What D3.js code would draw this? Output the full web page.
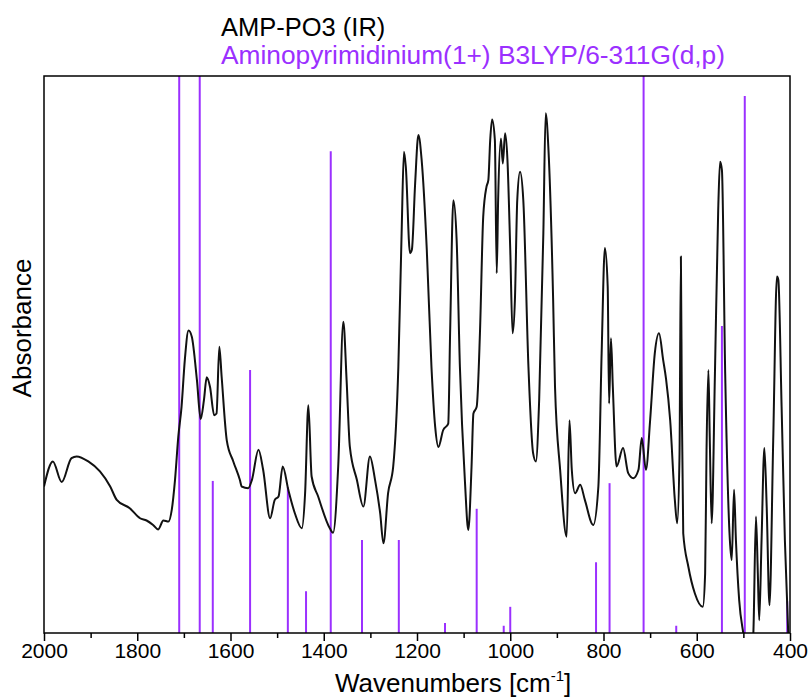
<!DOCTYPE html>
<html>
<head>
<meta charset="utf-8">
<script src="https://cdn.jsdelivr.net/npm/d3@7"></script>
<style>
  body { margin: 0; background: #fff; }
  text { font-family: "Liberation Sans", Arial, sans-serif; }
</style>
</head>
<body>
<div id="chart"></div>
<script>
// IR spectrum, wavenumber (cm-1) and absorbance (arb. units)
const specWn = [
  2000, 1981, 1962, 1941, 1930, 1905, 1880, 1858, 1844, 1816,
  1794, 1780, 1766, 1755, 1744, 1733, 1726, 1719, 1712, 1705,
  1698, 1690, 1683, 1672, 1664, 1657, 1651, 1644, 1635, 1630,
  1624, 1619, 1608, 1594, 1580, 1576, 1562, 1554, 1540, 1530,
  1515, 1505, 1497, 1488, 1476, 1462, 1447, 1440, 1433, 1426,
  1412, 1387, 1380, 1369, 1358, 1351, 1344, 1329, 1315, 1301,
  1290, 1279, 1272, 1262, 1251, 1240, 1233, 1228, 1224, 1215,
  1211, 1204, 1197, 1190, 1179, 1169, 1161, 1154, 1144, 1133,
  1129, 1122, 1115, 1108, 1097, 1090, 1083, 1079, 1072, 1065,
  1058, 1051, 1047, 1043, 1039, 1033, 1029, 1026, 1020, 1016,
  1011, 1006, 1000, 995, 990, 985, 979, 972, 961, 951,
  945, 938, 929, 924, 918, 908, 904, 893, 879, 873,
  868, 861, 850, 840, 822, 811, 804, 797, 791, 788,
  784, 780, 772, 758, 747, 736, 725, 718, 709, 700,
  690, 681, 672, 666, 657, 647, 642, 637, 634, 632,
  629, 618, 604, 587, 582, 579, 575, 572, 568, 561,
  554, 550, 546, 539, 529, 525, 520, 516, 509, 500,
  490, 479, 473, 469, 466, 461, 455, 450, 444, 436,
  428, 425, 418, 411, 404, 400
];
const specAbs = [
  0.263, 0.308, 0.271, 0.314, 0.317, 0.308, 0.290, 0.263, 0.239, 0.224,
  0.206, 0.202, 0.194, 0.186, 0.202, 0.200, 0.221, 0.275, 0.352, 0.406,
  0.490, 0.543, 0.532, 0.454, 0.384, 0.418, 0.459, 0.442, 0.391, 0.394,
  0.514, 0.460, 0.346, 0.308, 0.275, 0.263, 0.260, 0.275, 0.329, 0.293,
  0.206, 0.239, 0.245, 0.299, 0.257, 0.215, 0.188, 0.251, 0.409, 0.281,
  0.245, 0.188, 0.180, 0.299, 0.559, 0.454, 0.334, 0.275, 0.227, 0.317,
  0.275, 0.215, 0.161, 0.251, 0.299, 0.478, 0.718, 0.864, 0.837, 0.682,
  0.688, 0.807, 0.894, 0.849, 0.688, 0.478, 0.370, 0.334, 0.364, 0.376,
  0.538, 0.777, 0.706, 0.478, 0.269, 0.185, 0.299, 0.394, 0.406, 0.538,
  0.747, 0.801, 0.813, 0.885, 0.922, 0.885, 0.646, 0.777, 0.888, 0.843,
  0.897, 0.849, 0.688, 0.538, 0.598, 0.777, 0.828, 0.777, 0.478, 0.323,
  0.308, 0.418, 0.718, 0.933, 0.867, 0.598, 0.442, 0.293, 0.173, 0.382,
  0.293, 0.251, 0.266, 0.239, 0.194, 0.263, 0.502, 0.691, 0.622, 0.412,
  0.529, 0.442, 0.299, 0.332, 0.287, 0.278, 0.293, 0.350, 0.293, 0.382,
  0.502, 0.538, 0.490, 0.457, 0.382, 0.239, 0.197, 0.317, 0.676, 0.406,
  0.179, 0.119, 0.071, 0.047, 0.107, 0.329, 0.472, 0.346, 0.197, 0.466,
  0.759, 0.846, 0.831, 0.466, 0.167, 0.131, 0.257, 0.167, 0.059, -0.001,
  -0.05, -0.007, 0.209, 0.107, 0.023, 0.167, 0.332, 0.227, 0.050, 0.346,
  0.640, 0.634, 0.406, 0.167, 0.005, -0.05
];

// computed lines (B3LYP), position and relative intensity
const stickWn  = [1710, 1666, 1638, 1558, 1477, 1438, 1385, 1318, 1239, 1140,
                  1072, 1014, 1000, 816, 787, 714, 644, 546, 497, 406];
const stickInt = [1.0, 1.0, 0.273, 0.472, 0.262, 0.075, 0.865, 0.167, 0.167, 0.018,
                  0.223, 0.013, 0.047, 0.127, 0.269, 1.0, 0.013, 0.551, 0.964, 0.057];

const majorTicks = [2000, 1800, 1600, 1400, 1200, 1000, 800, 600, 400];
const minorTicks = [1900, 1700, 1500, 1300, 1100, 900, 700, 500];

const legendLabels = ["AMP-PO3 (IR)", "Aminopyrimidinium(1+) B3LYP/6-311G(d,p)"];

const W = 809, H = 700;
const margin = {top: 76, right: 19, bottom: 67, left: 44};
const purple = "#9b30ff";

const svg = d3.select("#chart").append("svg")
  .attr("width", W).attr("height", H);

const x = d3.scaleLinear().domain([2000, 400]).range([margin.left, W - margin.right]);
const y = d3.scaleLinear().domain([0, 1]).range([H - margin.bottom, margin.top]);

svg.append("clipPath").attr("id", "plot-clip")
  .append("rect")
  .attr("x", margin.left).attr("y", margin.top)
  .attr("width", W - margin.left - margin.right)
  .attr("height", H - margin.top - margin.bottom);

const plot = svg.append("g").attr("clip-path", "url(#plot-clip)");

// sticks
plot.selectAll("line.stick")
  .data(stickWn.map((w, i) => ({w: w, v: stickInt[i]})))
  .enter().append("line")
  .attr("class", "stick")
  .attr("x1", d => x(d.w)).attr("x2", d => x(d.w))
  .attr("y1", y(0)).attr("y2", d => y(d.v))
  .attr("stroke", purple)
  .attr("stroke-width", 2);

// spectrum
const spec = specWn.map((w, i) => ({w: w, v: specAbs[i]}));
const line = d3.line()
  .x(d => x(d.w))
  .y(d => y(d.v))
  .curve(d3.curveMonotoneX);

plot.append("path")
  .datum(spec)
  .attr("d", line)
  .attr("fill", "none")
  .attr("stroke", "#111")
  .attr("stroke-width", 2)
  .attr("stroke-linejoin", "round");

// frame
svg.append("rect")
  .attr("x", margin.left).attr("y", margin.top)
  .attr("width", W - margin.left - margin.right)
  .attr("height", H - margin.top - margin.bottom)
  .attr("fill", "none")
  .attr("stroke", "#000")
  .attr("stroke-width", 1.5);

// x axis
const xAxis = svg.append("g")
  .attr("transform", `translate(0,${H - margin.bottom})`)
  .call(d3.axisBottom(x).tickValues(majorTicks).tickFormat(d3.format("d"))
    .tickSize(8).tickSizeOuter(0).tickPadding(2));
xAxis.select(".domain").remove();
xAxis.selectAll(".tick line").attr("stroke", "#000").attr("stroke-width", 1.5);
xAxis.selectAll(".tick text")
  .attr("font-size", 21)
  .attr("fill", "#000")
  .style("font-family", '"Liberation Sans", Arial, sans-serif');

const xMinor = svg.append("g")
  .attr("transform", `translate(0,${H - margin.bottom})`)
  .call(d3.axisBottom(x).tickValues(minorTicks).tickSize(5).tickSizeOuter(0).tickFormat(""));
xMinor.select(".domain").remove();
xMinor.selectAll(".tick line").attr("stroke", "#000").attr("stroke-width", 1.5);

// axis titles
const xt = svg.append("text")
  .attr("x", 335).attr("y", 692)
  .attr("font-size", 26)
  .attr("fill", "#000");
xt.append("tspan").text("Wavenumbers [cm");
xt.append("tspan").text("-1").attr("font-size", 15).attr("dy", -11);
xt.append("tspan").text("]").attr("dy", 11);

svg.append("text")
  .attr("transform", "translate(31,328) rotate(-90)")
  .attr("text-anchor", "middle")
  .attr("font-size", 26)
  .attr("fill", "#000")
  .text("Absorbance");

// legend
svg.append("text")
  .attr("x", 221).attr("y", 36)
  .attr("font-size", 25.5)
  .attr("fill", "#000")
  .text(legendLabels[0]);

svg.append("text")
  .attr("x", 221).attr("y", 64)
  .attr("font-size", 26.3)
  .attr("fill", purple)
  .text(legendLabels[1]);
</script>
</body>
</html>
